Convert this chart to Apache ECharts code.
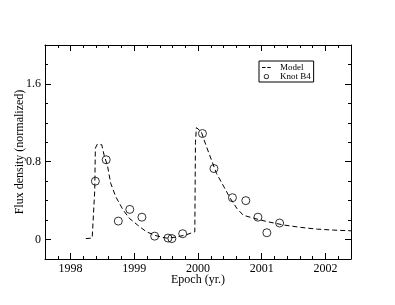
<!DOCTYPE html>
<html>
<head>
<meta charset="utf-8">
<script src="https://cdn.jsdelivr.net/npm/echarts@6/dist/echarts.min.js"></script>
<style>html,body{margin:0;padding:0;background:#fff;}#c{width:395px;height:305px;}</style>
</head>
<body>
<div id="c"></div>
<script>
// Model curve (dashed)
var modelX = [1998.24, 1998.34, 1998.37, 1998.38, 1998.39, 1998.42, 1998.45, 1998.49, 1998.53, 1998.58, 1998.63, 1998.71, 1998.82, 1998.92, 1999.05, 1999.19, 1999.34, 1999.50, 1999.66, 1999.82, 1999.95, 1999.96, 1999.975, 2000.00, 2000.05, 2000.13, 2000.21, 2000.29, 2000.40, 2000.50, 2000.61, 2000.71, 2000.87, 2001.08, 2001.34, 2001.61, 2001.87, 2002.13, 2002.40];
var modelY = [0.01, 0.015, 0.03, 0.5, 0.94, 0.98, 0.99, 0.975, 0.86, 0.76, 0.58, 0.44, 0.31, 0.22, 0.15, 0.08, 0.04, 0.015, 0.025, 0.05, 0.08, 1.0, 1.15, 1.16, 1.11, 0.96, 0.82, 0.68, 0.55, 0.43, 0.32, 0.25, 0.22, 0.185, 0.15, 0.125, 0.107, 0.097, 0.09];
// Knot B4 observations (open circles)
var knotX = [1998.39, 1998.56, 1998.75, 1998.93, 1999.12, 1999.32, 1999.53, 1999.59, 1999.76, 2000.07, 2000.25, 2000.54, 2000.75, 2000.94, 2001.08, 2001.28];
var knotY = [0.60, 0.82, 0.19, 0.31, 0.23, 0.035, 0.015, 0.01, 0.06, 1.09, 0.73, 0.43, 0.40, 0.23, 0.07, 0.17];
// Ticks
var xTickLabels = [1998, 1999, 2000, 2001, 2002];
var yTickLabels = [0, 0.8, 1.6];

var FONT = 'Liberation Serif';
var modelData = modelX.map(function (x, i) { return [x, modelY[i]]; });
var knotData = knotX.map(function (x, i) { return [x, knotY[i]]; });

function xAx(pos, major, labels) {
  var a = {
    type: 'value', position: pos, min: 1997.6, max: 2002.4, interval: 0.2,
    axisLine: { show: !major, onZero: false, lineStyle: { color: '#000', width: 1 } },
    axisTick: { show: true, inside: true, length: major ? 6 : 3, lineStyle: { color: '#000', width: 1 } },
    axisLabel: { show: false },
    splitLine: { show: false }
  };
  if (major) a.axisTick.customValues = xTickLabels;
  if (labels) {
    a.axisLabel = { show: true, customValues: xTickLabels, color: '#000', fontFamily: FONT, fontSize: 12, margin: 4,
      formatter: function (v) { return String(Math.round(v)); } };
    a.name = 'Epoch (yr.)';
    a.nameLocation = 'middle';
    a.nameGap = 15;
    a.nameMoveOverlap = false;
    a.nameTextStyle = { color: '#000', fontFamily: FONT, fontSize: 12, verticalAlign: 'top' };
  }
  return a;
}
function yAx(pos, major, labels) {
  var a = {
    type: 'value', position: pos, min: -0.2, max: 2.0, interval: 0.2,
    axisLine: { show: !major, onZero: false, lineStyle: { color: '#000', width: 1 } },
    axisTick: { show: true, inside: true, length: major ? 6 : 3, lineStyle: { color: '#000', width: 1 } },
    axisLabel: { show: false },
    splitLine: { show: false }
  };
  if (major) a.axisTick.customValues = yTickLabels;
  if (labels) {
    a.axisLabel = { show: true, customValues: yTickLabels, color: '#000', fontFamily: FONT, fontSize: 12, margin: 4,
      formatter: function (v) { return String(Math.round(v * 10) / 10); } };
    a.name = 'Flux density (normalized)';
    a.nameLocation = 'middle';
    a.nameGap = 19;
    a.nameMoveOverlap = false;
    a.nameRotate = 90;
    a.nameTextStyle = { color: '#000', fontFamily: FONT, fontSize: 12 };
  }
  return a;
}

var chart = echarts.init(document.getElementById('c'), null, { renderer: 'canvas' });
chart.setOption({
  animation: false,
  backgroundColor: '#fff',
  grid: { left: 45, right: 44, top: 45, bottom: 46, containLabel: false, outerBoundsMode: 'none' },
  legend: {
    left: 259, top: 61, orient: 'vertical',
    borderColor: '#000', borderWidth: 1, borderRadius: 0,
    padding: [2, 3, 1, 3], itemGap: 0, itemWidth: 11, itemHeight: 7,
    textStyle: { fontFamily: FONT, fontSize: 9, color: '#000', padding: [0, 0, 0, 3] },
    data: [
      { name: 'Model', icon: 'path://M0,3.5 L4,3.5 L4,4.5 L0,4.5 Z M6,3.5 L10,3.5 L10,4.5 L6,4.5 Z M0,0 L0.01,0 L0.01,0.01 Z M0,8 L0.01,8 L0.01,7.99 Z', itemStyle: { color: '#000', borderWidth: 0 } },
      { name: 'Knot B4', icon: 'path://M5,1 A3,3 0 1 1 4.99,1 Z M5,2 A2,2 0 1 0 5.01,2 Z M0,0 L0.01,0 L0.01,0.01 Z M0,8 L0.01,8 L0.01,7.99 Z M10,0 L10.01,0 L10.01,0.01 Z', itemStyle: { color: '#000', borderWidth: 0 } }
    ]
  },
  xAxis: [xAx('bottom', false, true), xAx('bottom', true, false), xAx('top', false, false), xAx('top', true, false)],
  yAxis: [yAx('left', false, true), yAx('left', true, false), yAx('right', false, false), yAx('right', true, false)],
  series: [
    {
      name: 'Model', type: 'line', data: modelData, xAxisIndex: 0, yAxisIndex: 0,
      symbol: 'none', smooth: false,
      lineStyle: { color: '#000', width: 1, type: [5, 3] },
      itemStyle: { color: '#000' }
    },
    {
      name: 'Knot B4', type: 'scatter', data: knotData, xAxisIndex: 0, yAxisIndex: 0,
      symbol: 'circle', symbolSize: 8, z: 5,
      itemStyle: { color: 'rgba(0,0,0,0)', borderColor: '#000', borderWidth: 1 }
    }
  ]
});
</script>
</body>
</html>
